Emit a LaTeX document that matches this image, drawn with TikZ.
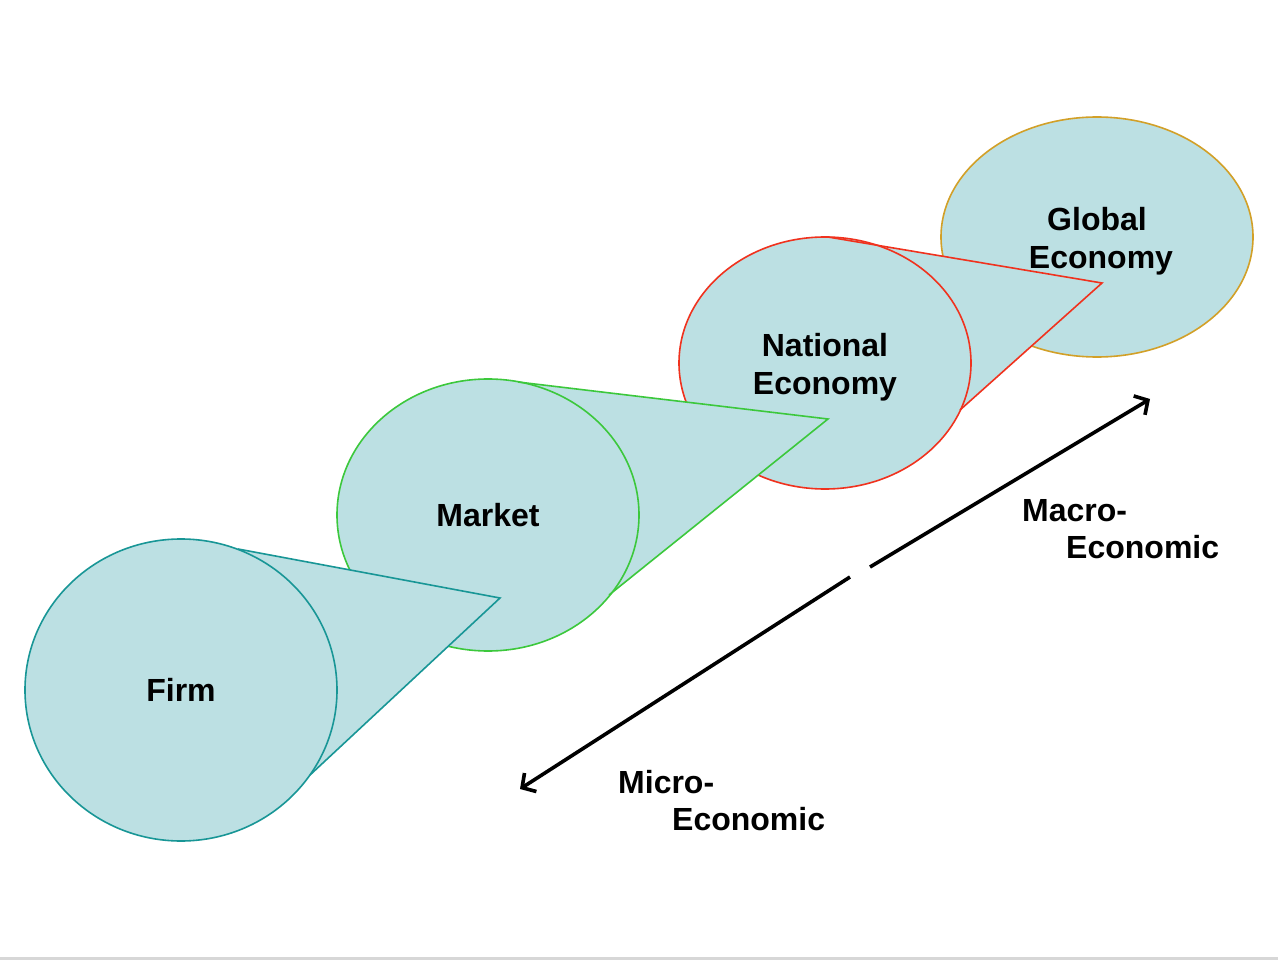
\documentclass[tikz,border=0pt]{standalone}
\usepackage{fontspec}
\setmainfont{Liberation Sans}
\usetikzlibrary{shapes.geometric,arrows.meta}
\definecolor{bubblefill}{RGB}{188,224,227}
\definecolor{firmcol}{RGB}{24,150,150}
\definecolor{marketcol}{RGB}{60,200,60}
\definecolor{natcol}{RGB}{240,50,30}
\definecolor{globcol}{RGB}{210,160,40}
\definecolor{rulecol}{RGB}{215,215,215}
\tikzset{
  bigfont/.style={font=\fontsize{32}{37.5}\selectfont\bfseries},
  ell/.style={ellipse, fill=bubblefill, line width=1.6pt, inner sep=0pt, align=center, bigfont},
  intext/.style={align=center, inner sep=0pt, bigfont, yshift=-4pt},
  wedgefill/.style={fill=bubblefill},
  wedgeline/.style={line width=1.6pt, line join=miter},
  lbl/.style={anchor=north west, align=left, inner sep=0pt, bigfont},
  axis/.style={line width=3.6pt, -{Straight Barb[length=10pt,width=22pt,line width=3.6pt]}}
}
\begin{document}
\begin{tikzpicture}[x=1pt,y=-1pt]
\useasboundingbox (0,0) rectangle (1278,960);
\fill[white] (0,0) rectangle (1278,960);
\fill[rulecol] (0,957) rectangle (1278,960);

% Global Economy
\node[ell, draw=globcol, minimum width=312pt, minimum height=240pt,
  label={[intext]center:Global\\\hspace*{8pt}Economy}] (glob) at (1097,237) {};

% National Economy with wedge to Global
\coordinate (natTop) at (828,237);
\coordinate (natTip) at (1102,283);
\coordinate (natBot) at (960,410);
\fill[wedgefill] (natTop) -- (natTip) -- (natBot) -- (825,363) -- cycle;
\node[ell, draw=natcol, minimum width=292pt, minimum height=252pt,
  label={[intext]center:National\\Economy}] (nat) at (825,363) {};
\draw[wedgeline, natcol] (natTop) -- (natTip) -- (natBot);

% Market with wedge to National
\coordinate (mktTop) at (518,382);
\coordinate (mktTip) at (828,419);
\coordinate (mktBot) at (609,595);
\fill[wedgefill] (mktTop) -- (mktTip) -- (mktBot) -- (488,515) -- cycle;
\node[ell, draw=marketcol, minimum width=302pt, minimum height=272pt] (mkt) at (488,515) {Market};
\draw[wedgeline, marketcol] (mktTop) -- (mktTip) -- (mktBot);

% Firm with wedge to Market
\coordinate (firmTop) at (238,549);
\coordinate (firmTip) at (500,598);
\coordinate (firmBot) at (310,775);
\fill[wedgefill] (firmTop) -- (firmTip) -- (firmBot) -- (181,690) -- cycle;
\node[ell, draw=firmcol, minimum width=312pt, minimum height=302pt] (firm) at (181,690) {\raisebox{-1pt}{Firm}};
\draw[wedgeline, firmcol] (firmTop) -- (firmTip) -- (firmBot);

% Axis arrows
\coordinate (axLowStart) at (850,577);
\coordinate (axLowEnd) at (520,789);
\coordinate (axUpStart) at (870,567);
\coordinate (axUpEnd) at (1150,399);
\draw[axis] (axLowStart) -- (axLowEnd);
\draw[axis] (axUpStart) -- (axUpEnd);

% Labels
\node[lbl] (macro) at (1022,499) {Macro-\\\hspace*{44pt}Economic};
\node[lbl] (micro) at (618,770) {Micro-\\\hspace*{54pt}Economic};
\end{tikzpicture}
\end{document}
